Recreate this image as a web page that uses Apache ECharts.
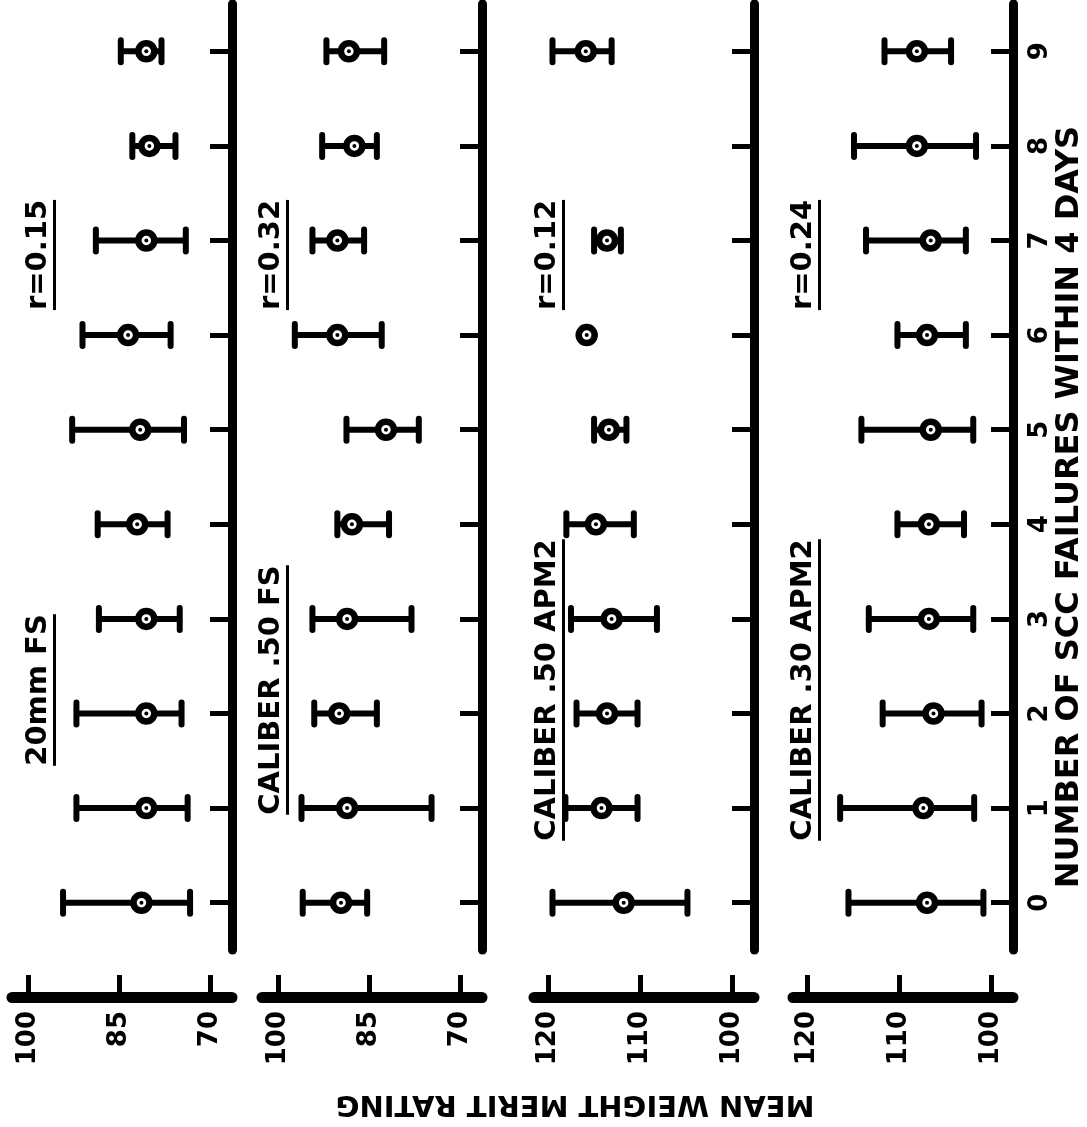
<!DOCTYPE html>
<html>
<head>
<meta charset="utf-8">
<script src="https://cdn.jsdelivr.net/npm/echarts@6/dist/echarts.min.js"></script>
<style>
  html, body { margin: 0; background: #fff; }
  #chart { width: 1087px; height: 1127px; }
</style>
</head>
<body>
<div id="chart"></div>
<script>
// categories: number of SCC failures within 4 days
const failures = ['0', '1', '2', '3', '4', '5', '6', '7', '8', '9'];

// 20mm FS, r = 0.15
const fs20Mean  = [81.3, 80.5, 80.5, 80.5, 82.0, 81.5, 83.5, 80.5, 80.0, 80.5];
const fs20Upper = [94.2, 92.0, 92.0, 88.3, 88.5, 92.7, 91.0, 88.8, 82.8, 84.7];
const fs20Lower = [73.3, 73.7, 74.7, 75.0, 77.0, 74.3, 76.5, 74.0, 75.7, 78.0];

// Caliber .50 FS, r = 0.32
const cal50fsMean  = [89.6, 88.6, 89.9, 88.6, 87.8, 82.2, 90.2, 90.2, 87.4, 88.3];
const cal50fsUpper = [95.9, 96.1, 94.0, 94.3, 90.2, 88.7, 97.2, 94.3, 92.7, 92.0];
const cal50fsLower = [85.3, 74.7, 83.7, 78.0, 81.7, 76.8, 82.9, 85.8, 83.7, 82.5];

// Caliber .50 APM2, r = 0.12
const cal50apMean  = [111.8, 114.2, 113.6, 113.1, 114.8, 113.4, 115.8, 113.6, null, 115.9];
const cal50apUpper = [119.5, 118.1, 116.9, 117.5, 118.0, 115.0, null, 115.0, null, 119.5];
const cal50apLower = [104.9, 110.3, 110.3, 108.2, 110.7, 111.5, null, 112.1, null, 113.1];

// Caliber .30 APM2, r = 0.24
const cal30apMean  = [107.0, 107.4, 106.3, 106.8, 106.8, 106.6, 107.0, 106.6, 108.1, 108.1];
const cal30apUpper = [115.5, 116.4, 111.8, 113.3, 110.2, 114.1, 110.2, 113.6, 114.9, 111.6];
const cal30apLower = [100.9, 101.9, 101.1, 102.0, 103.0, 102.0, 102.8, 102.8, 101.7, 104.4];

const lowTicks = [70, 85, 100];
const highTicks = [100, 110, 120];

const panels = [
  { title: '20mm FS', r: 'r=0.15', mean: fs20Mean, upper: fs20Upper, lower: fs20Lower, ticks: lowTicks, min: 66.4, max: 102.6, left: 12, tx: 38 },
  { title: 'CALIBER .50 FS', r: 'r=0.32', mean: cal50fsMean, upper: cal50fsUpper, lower: cal50fsLower, ticks: lowTicks, min: 66.4, max: 102.6, left: 262, tx: 271 },
  { title: 'CALIBER .50 APM2', r: 'r=0.12', mean: cal50apMean, upper: cal50apUpper, lower: cal50apLower, ticks: highTicks, min: 97.7, max: 121.5, left: 534, tx: 547 },
  { title: 'CALIBER .30 APM2', r: 'r=0.24', mean: cal30apMean, upper: cal30apUpper, lower: cal30apLower, ticks: highTicks, min: 97.7, max: 121.5, left: 793, tx: 803 }
];

const FONT = '"DejaVu Sans", sans-serif';
const ctx = document.createElement('canvas').getContext('2d');
function textWidth(str, size) {
  ctx.font = 'bold ' + size + 'px "DejaVu Sans"';
  return ctx.measureText(str).width;
}

// underlined text turned to read bottom-to-top
function underlined(str, x, y, size) {
  const w = textWidth(str, size);
  return {
    type: 'group', x: x, y: y, rotation: Math.PI / 2,
    children: [
      { type: 'text', style: { text: str, x: 0, y: 0, align: 'center', verticalAlign: 'middle',
        fontSize: size, fontWeight: 'bold', fontFamily: FONT, fill: '#000' } },
      { type: 'line', shape: { x1: -w / 2, y1: size * 0.5 + 2, x2: w / 2, y2: size * 0.5 + 2 },
        style: { stroke: '#000', lineWidth: 3 } }
    ]
  };
}

function renderBar(params, api) {
  const cat = api.value(0);
  const upper = api.value(1), lower = api.value(2), mean = api.value(3);
  const children = [];
  if (!isNaN(upper) && !isNaN(lower)) {
    const a = api.coord([upper, cat]);
    const b = api.coord([lower, cat]);
    children.push({ type: 'line', shape: { x1: a[0], y1: a[1], x2: b[0], y2: b[1] },
      style: { stroke: '#000', lineWidth: 6 } });
    [a, b].forEach(p => children.push({ type: 'line',
      shape: { x1: p[0], y1: p[1] - 11, x2: p[0], y2: p[1] + 11 },
      style: { stroke: '#000', lineWidth: 6, lineCap: 'round' } }));
  }
  const c = api.coord([mean, cat]);
  children.push({ type: 'circle', shape: { cx: c[0], cy: c[1], r: 8 },
    style: { fill: '#fff', stroke: '#000', lineWidth: 6.5 } });
  children.push({ type: 'circle', shape: { cx: c[0], cy: c[1], r: 2 }, style: { fill: '#000' } });
  return { type: 'group', children: children };
}

const grid = [], xAxis = [], yAxis = [], series = [], graphic = [];
panels.forEach((p, i) => {
  grid.push({ left: p.left, width: 220, top: 4, height: 946 });
  xAxis.push({
    type: 'value', gridIndex: i, inverse: true, min: p.min, max: p.max, offset: 47,
    axisLine: { show: true, onZero: false, lineStyle: { color: '#000', width: 11 } },
    axisTick: { show: true, inside: true, length: 22, customValues: p.ticks, lineStyle: { color: '#000', width: 5 } },
    axisLabel: { rotate: 90, margin: 14, customValues: p.ticks, fontSize: 26, fontWeight: 'bold', fontFamily: FONT, color: '#000' },
    splitLine: { show: false }
  });
  yAxis.push({
    type: 'category', gridIndex: i, data: failures, position: 'right',
    axisLine: { show: true, onZero: false, lineStyle: { color: '#000', width: 9 } },
    axisTick: { show: true, inside: true, alignWithLabel: true, length: 22, lineStyle: { color: '#000', width: 5 } },
    axisLabel: { show: i === 3, rotate: 90, margin: 14, fontSize: 26, fontWeight: 'bold', fontFamily: FONT, color: '#000' },
    splitLine: { show: false }
  });
  const rows = failures
    .map((f, k) => [k, p.upper[k], p.lower[k], p.mean[k]])
    .filter(row => row[3] !== null);
  series.push({
    type: 'custom', xAxisIndex: i, yAxisIndex: i, clip: false,
    encode: { x: [1, 2, 3], y: 0 },
    data: rows, renderItem: renderBar
  });
  graphic.push(underlined(p.r, p.tx, 255, 29));
  graphic.push(underlined(p.title, p.tx, 690, 29));
});

graphic.push({
  type: 'text', x: 1070, y: 507, rotation: Math.PI / 2,
  style: { text: 'NUMBER OF SCC FAILURES WITHIN 4 DAYS', align: 'center', verticalAlign: 'middle',
    fontSize: 32, fontWeight: 'bold', fontFamily: FONT, fill: '#000' }
});
graphic.push({
  type: 'text', x: 575, y: 1104, rotation: Math.PI,
  style: { text: 'MEAN WEIGHT MERIT RATING', align: 'center', verticalAlign: 'middle',
    fontSize: 29, fontWeight: 'bold', fontFamily: FONT, fill: '#000' }
});

const chart = echarts.init(document.getElementById('chart'));
chart.setOption({
  animation: false,
  backgroundColor: '#fff',
  grid: grid,
  xAxis: xAxis,
  yAxis: yAxis,
  series: series,
  graphic: graphic
});
</script>
</body>
</html>
